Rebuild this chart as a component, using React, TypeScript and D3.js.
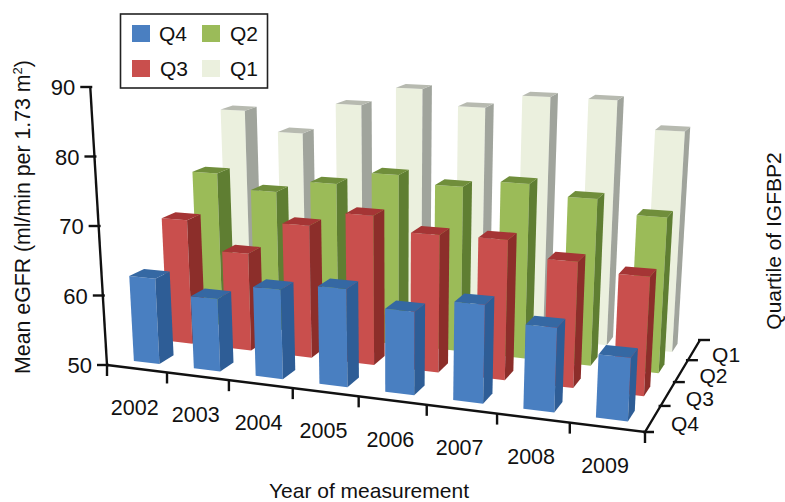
import React from "react";
import * as d3 from "d3";

const years = ["2002", "2003", "2004", "2005", "2006", "2007", "2008", "2009"];
const quartiles = ["Q4", "Q3", "Q2", "Q1"];
const q4Values = [62.3, 60.3, 62.5, 63.5, 61.3, 63.2, 61.1, 58.2];
const q3Values = [68.5, 64.3, 69.2, 71.4, 69.4, 69.5, 67.3, 66.1];
const q2Values = [73.6, 71.4, 73.3, 75.3, 74.2, 75.3, 73.8, 71.9];
const q1Values = [81.8, 78.7, 83.7, 86.7, 84.3, 86.4, 86.4, 82.3];
const yTicks = [50, 60, 70, 80, 90];
const seriesValues = [q4Values, q3Values, q2Values, q1Values];
const seriesColors = [
  { front: "#4a7fc1", side: "#2d5d96", top: "#3567a3" },
  { front: "#c94f4d", side: "#8c2d2b", top: "#a53634" },
  { front: "#9bbb59", side: "#5f7e30", top: "#6f8e3a" },
  { front: "#ebf0de", side: "#a0a49c", top: "#b7bab0" },
];

const font = "'Liberation Sans', Arial, sans-serif";

// Floor corners of the chart's 3D box, in pixels
const A: [number, number] = [107, 365];
const B: [number, number] = [645, 432];
const C: [number, number] = [700, 340];
const D: [number, number] = [232, 292];

const det = (p: number[], q: number[]) => p[0] * q[1] - p[1] * q[0];
const d1 = [B[0] - C[0], B[1] - C[1]];
const d2 = [D[0] - C[0], D[1] - C[1]];
const s = [A[0] - B[0] + C[0] - D[0], A[1] - B[1] + C[1] - D[1]];
const g = det(s, d2) / det(d1, d2);
const h = det(d1, s) / det(d1, d2);

const uScale = d3.scaleLinear().domain([0, years.length]).range([0, 1]);
const vScale = d3.scaleLinear().domain([0, quartiles.length]).range([0, 1]);
const heightScale = d3.scaleLinear().domain([50, 90]).range([0, 278]);
const VANISH_X = 396;
const VANISH_D = 4800;

function project(cat: number, dep: number, value: number): [number, number] {
  const u = uScale(cat);
  const v = vScale(dep);
  const w = g * u + h * v + 1;
  const x = ((B[0] - A[0] + g * B[0]) * u + (D[0] - A[0] + h * D[0]) * v + A[0]) / w;
  const y = ((B[1] - A[1] + g * B[1]) * u + (D[1] - A[1] + h * D[1]) * v + A[1]) / w;
  const up = heightScale(value) / w;
  return [x + ((x - VANISH_X) * up) / VANISH_D, y - up];
}

const line = d3.line();
const poly = (pts: [number, number][]) => line(pts)! + "Z";

const BAR_W = 0.43;
const BAR_D = 0.42;
const BAR_OFF = 0.28;

function Bar({ i, q, value }: { i: number; q: number; value: number }) {
  const c = seriesColors[q];
  const u0 = i + BAR_OFF;
  const u1 = u0 + BAR_W;
  const v0 = q + 0.5 - BAR_D / 2;
  const v1 = q + 0.5 + BAR_D / 2;
  const fl = project(u0, v0, 50), fr = project(u1, v0, 50), br = project(u1, v1, 50);
  const tfl = project(u0, v0, value), tfr = project(u1, v0, value);
  const tbr = project(u1, v1, value), tbl = project(u0, v1, value);
  return (
    <g>
      <path d={poly([tfl, tfr, fr, fl])} fill={c.front} />
      <path d={poly([tfr, tbr, br, fr])} fill={c.side} />
      <path d={poly([tfl, tfr, tbr, tbl])} fill={c.top} />
    </g>
  );
}

const legendItems = [
  { q: 0, x: 132, y: 25, tx: 159, ty: 41 },
  { q: 2, x: 202, y: 25, tx: 230, ty: 41 },
  { q: 1, x: 132, y: 60, tx: 160, ty: 76 },
  { q: 3, x: 202, y: 60, tx: 230, ty: 76 },
];

export default function App() {
  const axisTop = project(0, 0, 90);
  const origin = project(0, 0, 50);
  const right = project(years.length, 0, 50);
  const back = project(years.length, quartiles.length, 50);
  return (
    <svg
      width={785}
      height={502}
      style={{ position: "absolute", left: 0, top: 0, background: "#fff" }}
      fontFamily={font}
      fill="#111"
    >
      <defs>
        <filter id="soft" x="-5%" y="-5%" width="110%" height="110%">
          <feGaussianBlur stdDeviation="0.7" />
        </filter>
      </defs>
      <g filter="url(#soft)">
        {d3.range(quartiles.length - 1, -1, -1).map((q) =>
          years.map((_, i) => <Bar key={`${q}-${i}`} i={i} q={q} value={seriesValues[q][i]} />)
        )}
      </g>
      <g stroke="#111" strokeWidth={2.4} fill="none">
        <path d={poly([axisTop, origin]).replace("Z", "")} />
        <path d={poly([origin, right, back]).replace("Z", "")} />
        {yTicks.map((t) => {
          const p = project(0, 0, t);
          return <path key={t} d={`M${p[0] - 10},${p[1]}L${p[0] + 2},${p[1]}`} />;
        })}
        {years.map((_, i) => {
          const p = project(i, 0, 50);
          return <path key={i} d={`M${p[0]},${p[1]}V${p[1] + 11}`} />;
        })}
        <path d={`M${right[0]},${right[1]}V${right[1] + 11}M${right[0] - 2},${right[1]}h11`} />
        {quartiles.map((_, k) => {
          const p = project(years.length, k + 1, 50);
          return <path key={k} d={`M${p[0] - 2},${p[1]}h12`} />;
        })}
      </g>
      {yTicks.map((t) => {
        const p = project(0, 0, t);
        return (
          <text key={t} x={p[0] - 15} y={p[1] + 8} textAnchor="end" fontSize={22}>
            {t}
          </text>
        );
      })}
      {years.map((y, i) => {
        const p = project(i + 0.5, 0, 50);
        return (
          <text key={y} x={p[0] - 2} y={p[1] + 46} textAnchor="middle" fontSize={21.5}>
            {y}
          </text>
        );
      })}
      {quartiles.map((lab, k) => {
        const p = project(years.length, k + 0.5, 50);
        return (
          <text key={lab} x={p[0] + 18} y={p[1] + 12} fontSize={21}>
            {lab}
          </text>
        );
      })}
      <text
        transform="translate(30,217) rotate(-90)"
        textAnchor="middle"
        fontSize={21.3}
      >
        Mean eGFR (ml/min per 1.73 m
        <tspan fontSize={13} dy={-8}>2</tspan>
        <tspan dy={8}>)</tspan>
      </text>
      <text transform="translate(781,241) rotate(-90)" textAnchor="middle" fontSize={21}>
        Quartile of IGFBP2
      </text>
      <text x={369} y={498} textAnchor="middle" fontSize={21}>
        Year of measurement
      </text>
      <rect x={120.5} y={14} width={147} height={74} fill="#fff" stroke="#222" strokeWidth={1.6} />
      {legendItems.map((l) => (
        <g key={l.q}>
          <rect x={l.x} y={l.y} width={18} height={17} fill={seriesColors[l.q].front} />
          <text x={l.tx} y={l.ty} fontSize={21}>
            {quartiles[l.q]}
          </text>
        </g>
      ))}
    </svg>
  );
}
